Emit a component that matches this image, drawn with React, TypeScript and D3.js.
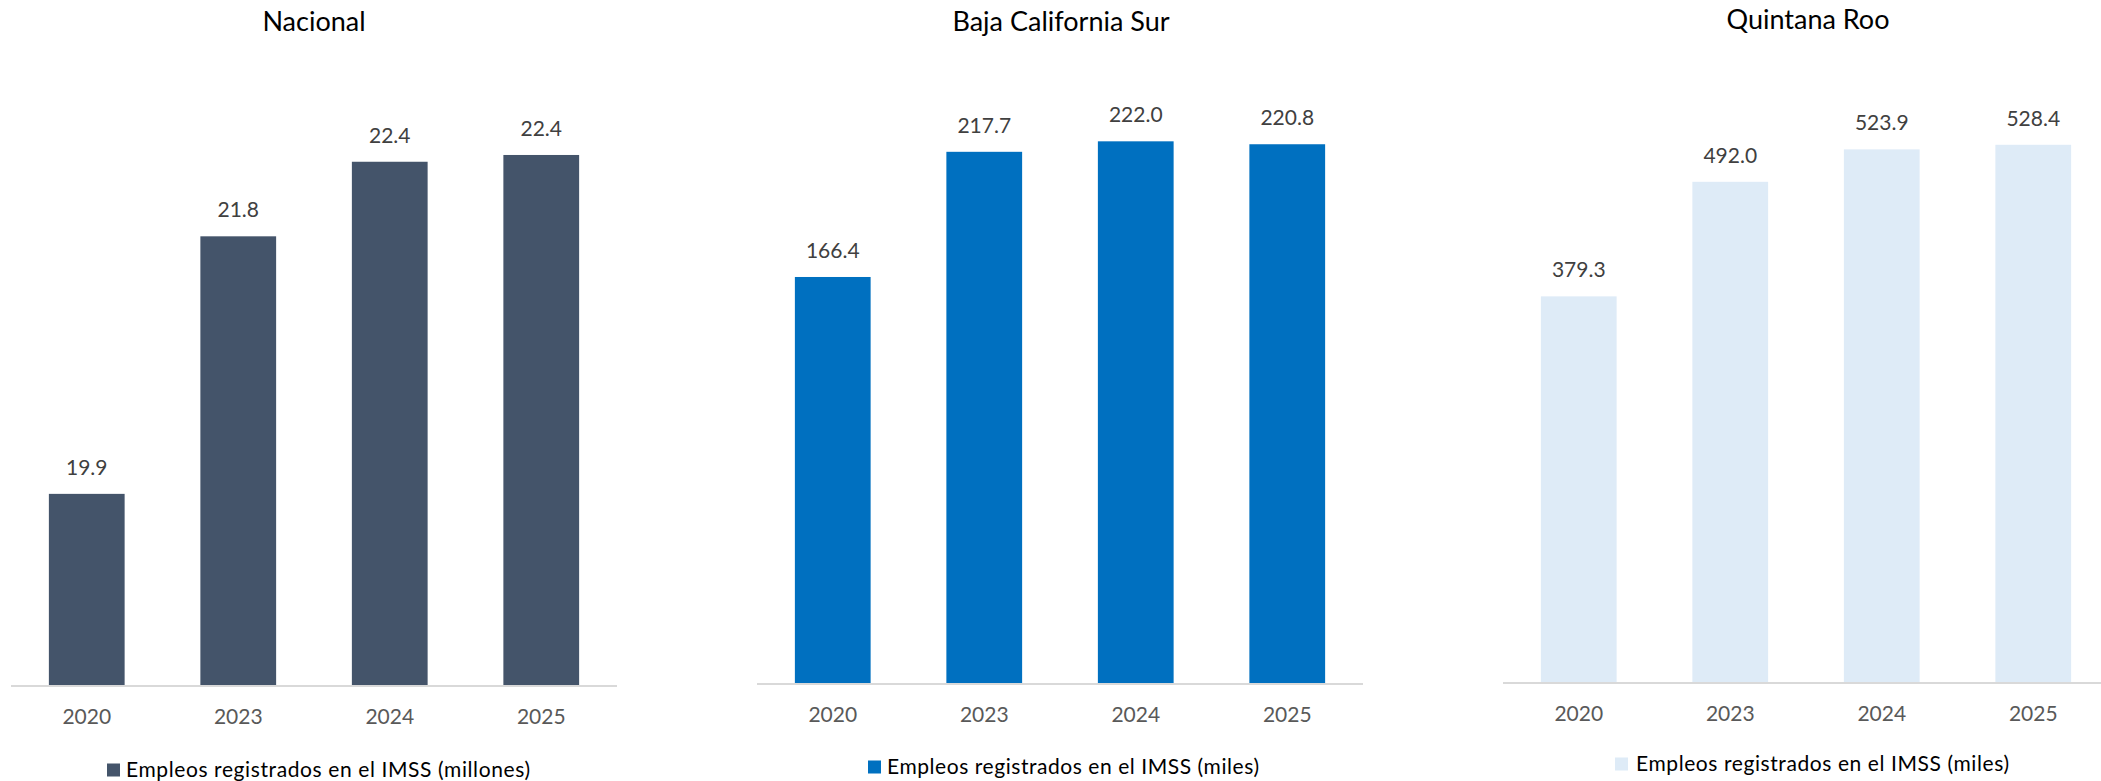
import React from "react";
import * as d3 from "d3";

const years = ["2020", "2023", "2024", "2025"];
const nacionalValues = [19.91, 21.81, 22.36, 22.41];
const bcsValues = [166.4, 217.7, 222.0, 220.8];
const qrooValues = [379.3, 492.0, 523.9, 528.4];
const titles = ["Nacional", "Baja California Sur", "Quintana Roo"];
const legendLabels = [
  "Empleos registrados en el IMSS (millones)",
  "Empleos registrados en el IMSS (miles)",
  "Empleos registrados en el IMSS (miles)",
];
const domains: [number, number][] = [
  [18.5, 23],
  [0, 250],
  [0, 600],
];

const panels = [
  { values: nacionalValues, x0: 11, x1: 617, base: 685, titleX: 314, titleY: 31, legSq: 107, legText: 126, legLen: 404, legY: 770, color: "#44546A" },
  { values: bcsValues, x0: 757, x1: 1363, base: 683, titleX: 1061, titleY: 31, legSq: 868, legText: 887, legLen: 372, legY: 767, color: "#0070C0" },
  { values: qrooValues, x0: 1503, x1: 2109, base: 682, titleX: 1808, titleY: 29, legSq: 1615, legText: 1636, legLen: 373, legY: 764, color: "#DEEBF7" },
];

const FONT = "Lato, 'Open Sans', 'DejaVu Sans', sans-serif";
const fmt = d3.format(".1f");
const PLOT_H = 610;

export default function App() {
  return (
    <svg
      width={2101}
      height={781}
      style={{ position: "absolute", left: 0, top: 0, background: "#fff" }}
      fontFamily={FONT}
    >
      <rect x={0} y={0} width={2101} height={781} fill="#fff" />
      {panels.map((p, i) => {
        const x = d3.scaleBand<string>().domain(years).range([p.x0, p.x1]).paddingInner(0.5).paddingOuter(0.25);
        const y = d3.scaleLinear().domain(domains[i]).range([p.base, p.base - PLOT_H]);
        return (
          <g key={i}>
            <text x={p.titleX} y={p.titleY} textAnchor="middle" fontSize={27} fill="#000">
              {titles[i]}
            </text>
            {p.values.map((v, j) => (
              <g key={j}>
                <rect
                  x={x(years[j])!}
                  y={y(v)}
                  width={x.bandwidth()}
                  height={p.base - y(v)}
                  fill={p.color}
                />
                <text
                  x={x(years[j])! + x.bandwidth() / 2}
                  y={y(v) - 19}
                  textAnchor="middle"
                  fontSize={21}
                  fill="#404040"
                >
                  {fmt(v)}
                </text>
                <text
                  x={x(years[j])! + x.bandwidth() / 2}
                  y={p.base + 39}
                  textAnchor="middle"
                  fontSize={21}
                  fill="#595959"
                >
                  {years[j]}
                </text>
              </g>
            ))}
            <line x1={p.x0} x2={p.x1} y1={p.base + 1} y2={p.base + 1} stroke="#D9D9D9" strokeWidth={2} />
            <rect x={p.legSq} y={p.legY - 6.5} width={13} height={13} fill={p.color} />
            <text
              x={p.legText}
              y={p.legY + 7}
              fontSize={21}
              fill="#000"
              textLength={p.legLen}
              lengthAdjust="spacing"
            >
              {legendLabels[i]}
            </text>
          </g>
        );
      })}
    </svg>
  );
}
